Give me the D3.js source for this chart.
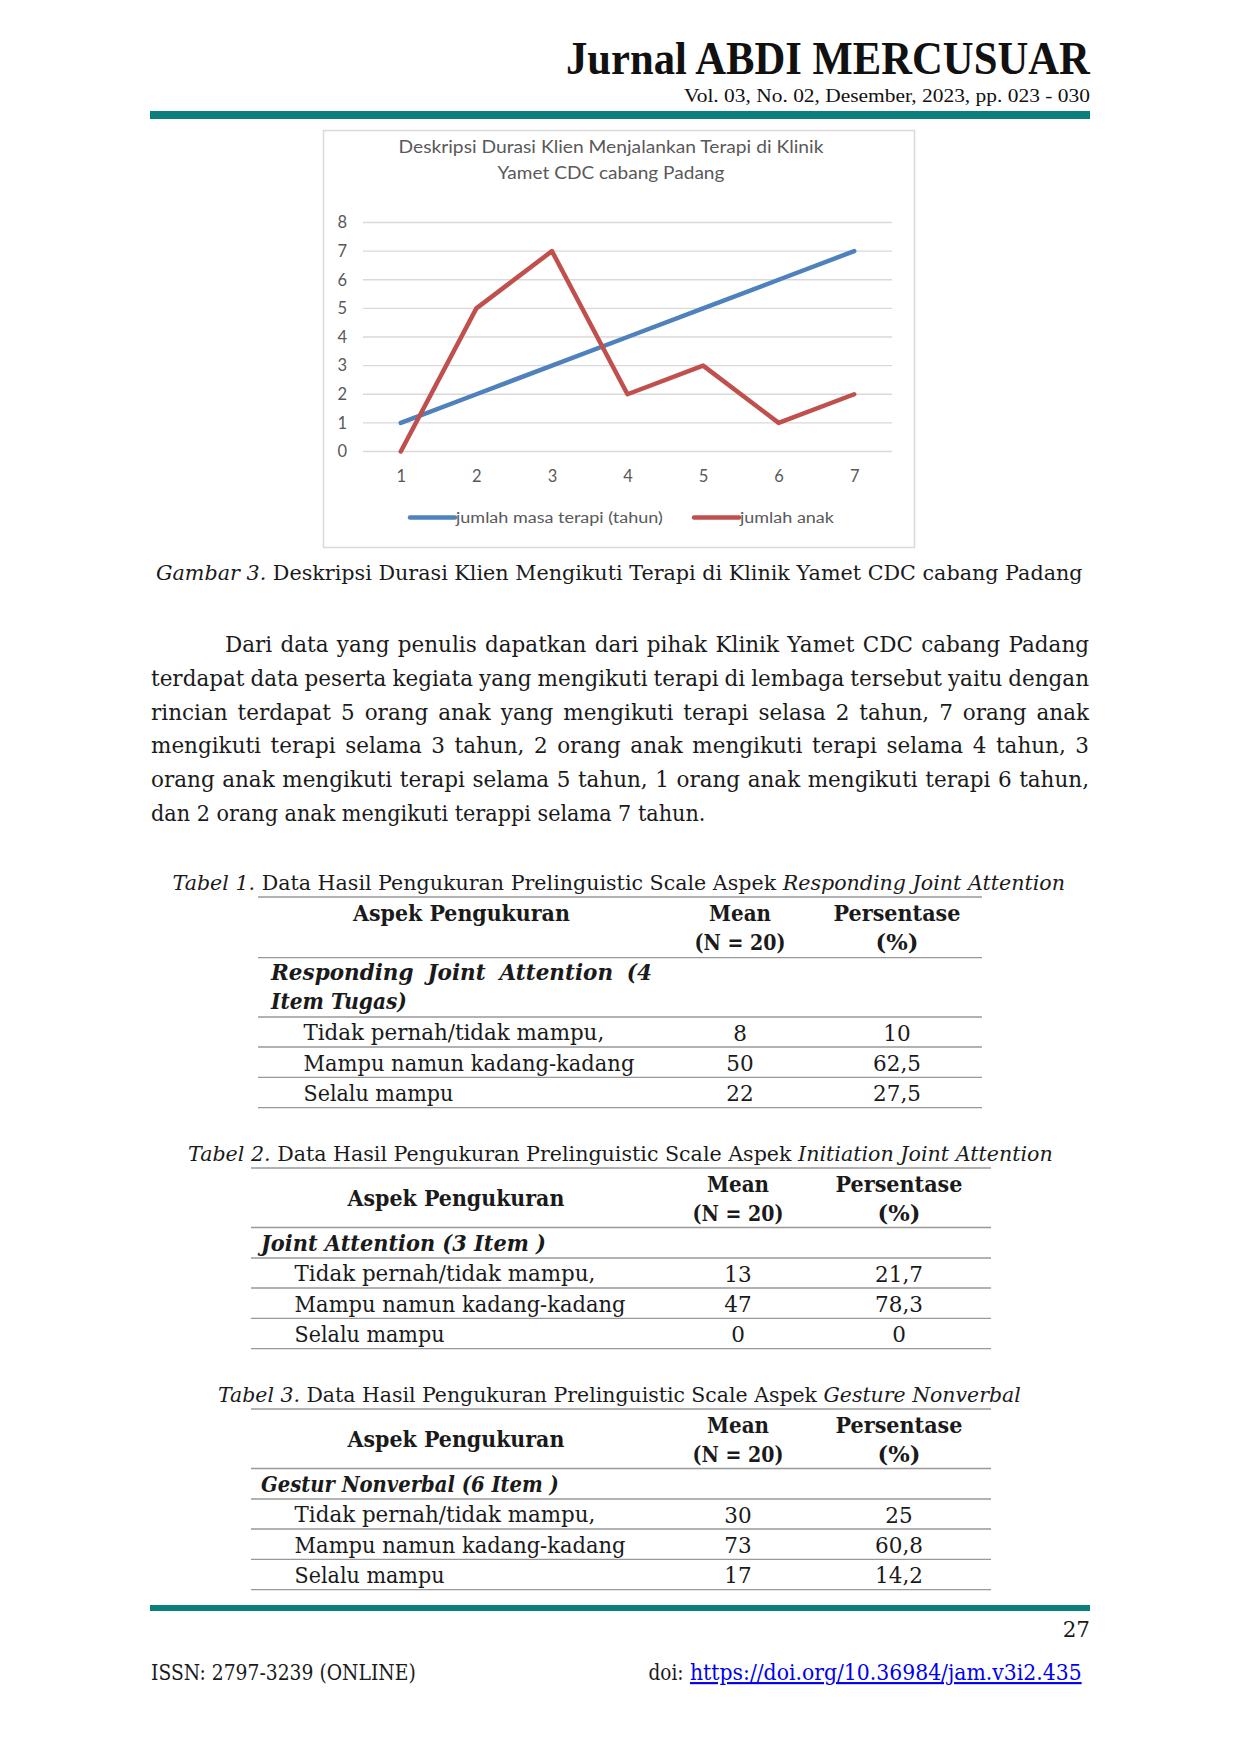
<!DOCTYPE html>
<html>
<head>
<meta charset="utf-8">
<script src="https://cdn.jsdelivr.net/npm/d3@7"></script>
<style>
  html, body { margin: 0; padding: 0; background: #ffffff; }
  svg { display: block; }
</style>
</head>
<body>
<svg id="page" width="1240" height="1754" viewBox="0 0 1240 1754"></svg>
<script>
// ---------------- DATA ----------------
const categories = [1, 2, 3, 4, 5, 6, 7];
const masaTerapi = [1, 2, 3, 4, 5, 6, 7];      // jumlah masa terapi (tahun)
const jumlahAnak = [0, 5, 7, 2, 3, 1, 2];      // jumlah anak
const yTicks = [0, 1, 2, 3, 4, 5, 6, 7, 8];
const seriesNames = ["jumlah masa terapi (tahun)", "jumlah anak"];
const chartTitle = ["Deskripsi Durasi Klien Menjalankan Terapi di Klinik", "Yamet CDC cabang Padang"];

const rowLabels = ["Tidak pernah/tidak mampu,", "Mampu namun kadang-kadang", "Selalu mampu"];
const table1Mean = ["8", "50", "22"];
const table1Pct = ["10", "62,5", "27,5"];
const table2Mean = ["13", "47", "0"];
const table2Pct = ["21,7", "78,3", "0"];
const table3Mean = ["30", "73", "17"];
const table3Pct = ["25", "60,8", "14,2"];

const paragraphLines = [
  "Dari data yang penulis dapatkan dari pihak Klinik Yamet CDC cabang Padang",
  "terdapat data peserta kegiata yang mengikuti terapi di lembaga tersebut yaitu dengan",
  "rincian terdapat 5 orang anak yang mengikuti terapi selasa 2 tahun, 7 orang anak",
  "mengikuti terapi selama 3 tahun, 2 orang anak mengikuti terapi selama 4 tahun, 3",
  "orang anak mengikuti terapi selama 5 tahun, 1 orang anak mengikuti terapi 6 tahun,",
  "dan 2 orang anak mengikuti terappi selama 7 tahun."
];

// ---------------- HELPERS ----------------
const svg = d3.select("#page");
svg.append("rect").attr("width", 1240).attr("height", 1754).attr("fill", "#ffffff");

const SERIF = "'DejaVu Serif', serif";
const BODY = 21.5;

function txt(parent, x, y, str, o = {}) {
  const t = parent.append("text")
    .attr("x", x).attr("y", y)
    .attr("font-family", o.family || SERIF)
    .attr("font-size", o.size || BODY)
    .attr("font-weight", o.weight || "normal")
    .attr("font-style", o.style || "normal")
    .attr("fill", o.fill || "#1a1a1a")
    .attr("text-anchor", o.anchor || "start");
  if (str !== null) t.text(str);
  return t;
}
// horizontally fit a left-anchored text to a target width
function fit(sel, left, width) {
  const w = sel.node().getComputedTextLength();
  if (w > 0) sel.attr("transform", `translate(${left},0) scale(${width / w},1) translate(${-left},0)`);
  return sel;
}
// fit a centred text to width
function fitC(sel, cx, width) {
  const w = sel.node().getComputedTextLength();
  if (w > 0) sel.attr("transform", `translate(${cx},0) scale(${width / w},1) translate(${-cx},0)`);
  return sel;
}
// justify words between x0 and x1
function justify(parent, line, x0, x1, y, o = {}) {
  const words = line.split(/\s+/);
  const nodes = words.map(w => txt(parent, 0, y, w, o));
  const widths = nodes.map(n => n.node().getComputedTextLength());
  const sum = d3.sum(widths);
  const gaps = words.length - 1;
  const minGap = 0.22 * (o.size || BODY);
  let f = 1, gap = (x1 - x0 - sum) / gaps;
  if (gap < minGap) { f = (x1 - x0 - gaps * minGap) / sum; gap = minGap; }
  let x = x0;
  nodes.forEach((n, i) => {
    n.attr("x", x);
    if (f !== 1) n.attr("textLength", widths[i] * f).attr("lengthAdjust", "spacingAndGlyphs");
    x += widths[i] * f + gap;
  });
}
function hline(parent, x0, x1, y, color, w) {
  parent.append("line").attr("x1", x0).attr("x2", x1).attr("y1", y).attr("y2", y)
    .attr("stroke", color).attr("stroke-width", w);
}

// ---------------- HEADER ----------------
const head = svg.append("g");
fit(txt(head, 566, 74, "Jurnal ABDI MERCUSUAR", { family: "'Liberation Serif', serif", size: 47, weight: "bold", fill: "#111" }), 566, 524);
fit(txt(head, 684, 102, "Vol. 03, No. 02, Desember, 2023, pp. 023 - 030", { family: "'Liberation Serif', serif", size: 19.5, fill: "#111" }), 684, 406);
head.append("rect").attr("x", 150).attr("y", 111).attr("width", 940).attr("height", 8).attr("fill", "#0b7f7b");

// ---------------- CHART ----------------
const chart = svg.append("g");
chart.append("rect").attr("x", 323.5).attr("y", 130.5).attr("width", 591).attr("height", 417)
  .attr("fill", "#ffffff").attr("stroke", "#d9d9d9").attr("stroke-width", 1.5);

const SANS = "Lato, 'Open Sans', sans-serif";
const tcol = "#595959";
fitC(txt(chart, 611, 153, chartTitle[0], { family: SANS, size: 16.5, fill: tcol, anchor: "middle" }), 611, 425);
fitC(txt(chart, 611, 179, chartTitle[1], { family: SANS, size: 16.5, fill: tcol, anchor: "middle" }), 611, 227);

const x = d3.scalePoint().domain(categories).range([363, 892]).padding(0.5);
const y = d3.scaleLinear().domain([0, 8]).range([451.5, 222.5]);

// gridlines
chart.append("g").selectAll("line").data(yTicks).join("line")
  .attr("x1", 363).attr("x2", 892)
  .attr("y1", d => y(d)).attr("y2", d => y(d))
  .attr("stroke", "#d9d9d9").attr("stroke-width", 1.4);

// y axis
const yAxis = chart.append("g").attr("transform", "translate(363,0)")
  .call(d3.axisLeft(y).tickValues(yTicks).tickSize(0).tickPadding(16).tickFormat(d3.format("d")));
yAxis.select(".domain").remove();
yAxis.selectAll("text").attr("font-family", SANS).attr("font-size", 16.5).attr("fill", tcol);

// x axis
const xAxis = chart.append("g").attr("transform", "translate(0,451.5)")
  .call(d3.axisBottom(x).tickSize(0).tickPadding(18.5));
xAxis.select(".domain").remove();
xAxis.selectAll("text").attr("font-family", SANS).attr("font-size", 16.5).attr("fill", tcol);

const colors = ["#4f81bd", "#c0504d"];
const series = [masaTerapi, jumlahAnak];
const line = d3.line().x((d, i) => x(categories[i])).y(d => y(d));
series.forEach((s, k) => {
  chart.append("path").datum(s).attr("d", line)
    .attr("fill", "none").attr("stroke", colors[k]).attr("stroke-width", 4.5)
    .attr("stroke-linejoin", "round").attr("stroke-linecap", "round");
});

// legend
const legendPos = [[410, 455, 456, 207], [694, 739, 740, 94]];
seriesNames.forEach((name, k) => {
  const [l0, l1, tx, tw] = legendPos[k];
  chart.append("line").attr("x1", l0).attr("x2", l1).attr("y1", 517.5).attr("y2", 517.5)
    .attr("stroke", colors[k]).attr("stroke-width", 4.5).attr("stroke-linecap", "round");
  fit(txt(chart, tx, 523, name, { family: SANS, size: 16, fill: tcol }), tx, tw);
});

// caption
const cap = txt(svg, 156, 580, null, { size: 20 });
cap.append("tspan").attr("font-style", "italic").text("Gambar 3.");
cap.append("tspan").text(" Deskripsi Durasi Klien Mengikuti Terapi di Klinik Yamet CDC cabang Padang");
fit(cap, 156, 927);

// ---------------- PARAGRAPH ----------------
const para = svg.append("g");
paragraphLines.forEach((l, i) => {
  const yy = 652 + 33.8 * i;
  if (i === paragraphLines.length - 1) {
    fit(txt(para, 151, yy, l), 151, 555);
  } else {
    justify(para, l, i === 0 ? 225 : 151, 1089, yy);
  }
});

// ---------------- TABLES ----------------
const LINE = "#999999";
function tableCaption(y0, left, width, num, mid, ital) {
  const c = txt(svg, left, y0, null, { size: 20 });
  c.append("tspan").attr("font-style", "italic").text("Tabel " + num + ".");
  c.append("tspan").text(" " + mid);
  c.append("tspan").attr("font-style", "italic").text(ital);
  fit(c, left, width);
}
function header(g, T, x0, x1, aspekX, meanX, pctX, aspekY) {
  hline(g, x0, x1, T, LINE, 1.3);
  fitC(txt(g, aspekX, aspekY, "Aspek Pengukuran", { weight: "bold", anchor: "middle" }), aspekX, 217);
  fitC(txt(g, meanX, T + 23.6, "Mean", { weight: "bold", anchor: "middle" }), meanX, 62);
  fitC(txt(g, meanX, T + 53, "(N = 20)", { weight: "bold", anchor: "middle" }), meanX, 91);
  fitC(txt(g, pctX, T + 23.6, "Persentase", { weight: "bold", anchor: "middle" }), pctX, 127);
  fitC(txt(g, pctX, T + 53, "(%)", { weight: "bold", anchor: "middle" }), pctX, 43);
}
function rows(g, rT, x0, x1, labelX, meanX, pctX, means, pcts) {
  const rowW = [301, 331, 150];
  rowLabels.forEach((lab, i) => {
    const by = rT + 23.5 + 30.3 * i;
    fit(txt(g, labelX, by, lab), labelX, rowW[i]);
    txt(g, meanX, by, means[i], { anchor: "middle" });
    txt(g, pctX, by, pcts[i], { anchor: "middle" });
    hline(g, x0, x1, rT + 30 + 30.3 * i, LINE, 1.3);
  });
}

// Table 1
tableCaption(890.4, 172.5, 893, 1, "Data Hasil Pengukuran Prelinguistic Scale  Aspek ", "Responding Joint Attention");
const t1 = svg.append("g");
{
  const T = 897, x0 = 258, x1 = 982;
  header(t1, T, x0, x1, 461.5, 740, 897, T + 23.6);
  hline(t1, x0, x1, T + 60.6, LINE, 1.3);
  justify(t1, "Responding Joint Attention (4", 271, 652, T + 83, { weight: "bold", style: "italic" });
  fit(txt(t1, 271, T + 112, "Item Tugas)", { weight: "bold", style: "italic" }), 271, 136);
  hline(t1, x0, x1, T + 120, LINE, 1.3);
  rows(t1, T + 120, x0, x1, 303.5, 740, 897, table1Mean, table1Pct);
}

// Table 2
tableCaption(1161.4, 188, 865, 2, "Data Hasil Pengukuran Prelinguistic Scale Aspek ", "Initiation Joint Attention");
const t2 = svg.append("g");
{
  const T = 1168, x0 = 251, x1 = 991;
  header(t2, T, x0, x1, 456, 738, 899, T + 38);
  hline(t2, x0, x1, T + 59.5, LINE, 1.3);
  fit(txt(t2, 261, T + 83, "Joint Attention (3 Item )", { weight: "bold", style: "italic" }), 261, 285);
  hline(t2, x0, x1, T + 90, LINE, 1.3);
  rows(t2, T + 90, x0, x1, 294.6, 738, 899, table2Mean, table2Pct);
}

// Table 3
tableCaption(1402, 218, 803, 3, "Data Hasil Pengukuran Prelinguistic Scale Aspek ", "Gesture Nonverbal");
const t3 = svg.append("g");
{
  const T = 1409, x0 = 251, x1 = 991;
  header(t3, T, x0, x1, 456, 738, 899, T + 38);
  hline(t3, x0, x1, T + 59.5, LINE, 1.3);
  fit(txt(t3, 261, T + 83, "Gestur Nonverbal (6 Item )", { weight: "bold", style: "italic" }), 261, 298);
  hline(t3, x0, x1, T + 90, LINE, 1.3);
  rows(t3, T + 90, x0, x1, 294.6, 738, 899, table3Mean, table3Pct);
}

// ---------------- FOOTER ----------------
svg.append("rect").attr("x", 150).attr("y", 1605).attr("width", 940).attr("height", 6).attr("fill", "#0b7f7b");
txt(svg, 1090, 1637, "27", { anchor: "end" });
fit(txt(svg, 151, 1680, "ISSN: 2797-3239 (ONLINE)"), 151, 265);
fit(txt(svg, 648.5, 1680, "doi:"), 648.5, 35);
fit(txt(svg, 690, 1680, "https://doi.org/10.36984/jam.v3i2.435", { fill: "#0000ee" })
  .attr("text-decoration", "underline"), 690, 392);
</script>
</body>
</html>
